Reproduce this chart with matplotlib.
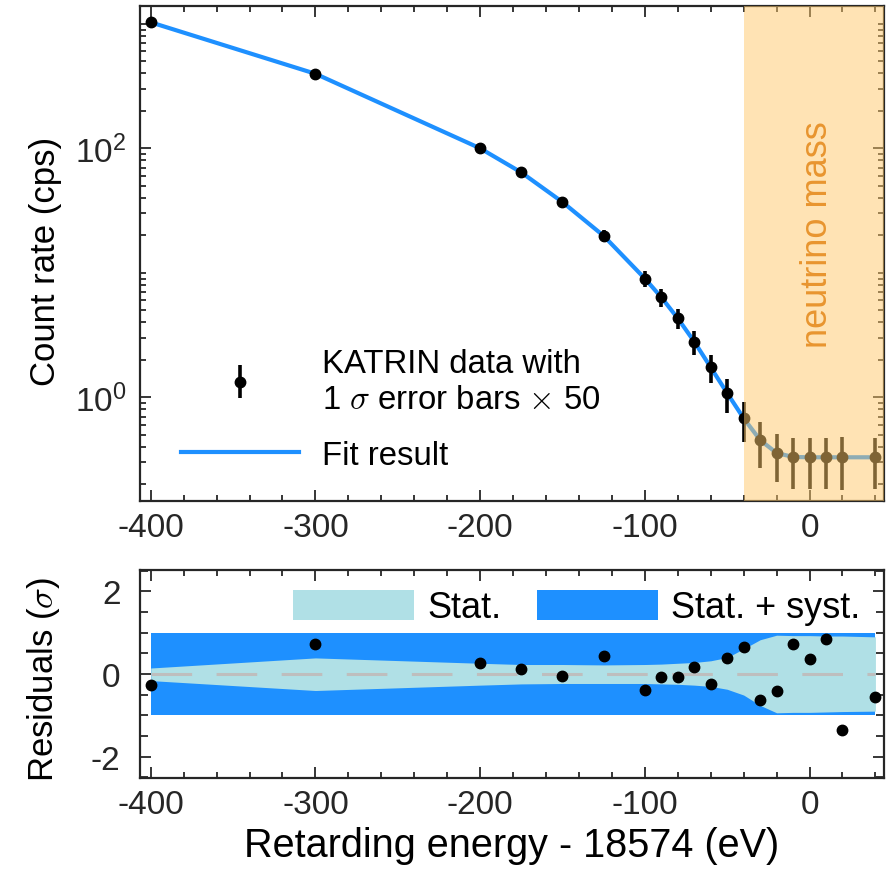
import numpy as np
import matplotlib
matplotlib.use("Agg")
import matplotlib.pyplot as plt
from matplotlib.ticker import FixedLocator, MultipleLocator, LogLocator, LogFormatterSciNotation, NullFormatter

plt.rcParams["font.family"] = ["Liberation Sans", "DejaVu Sans"]
plt.rcParams["mathtext.fontset"] = "cm"
plt.rcParams["axes.unicode_minus"] = False

# Retarding energy relative to 18574 eV
energy = [-400, -300, -200, -175, -150, -125, -100, -90, -80, -70,
          -60, -50, -40, -30, -20, -10, 0, 10, 20, 40]
# Measured count rate (cps)
rate = [1028, 397, 100, 64, 37, 19.8, 9.0, 6.36, 4.31, 2.80,
        1.74, 1.08, 0.678, 0.454, 0.357, 0.330, 0.330, 0.330, 0.330, 0.330]
# 1 sigma uncertainty of the rate (cps)
sigma = [0.40, 0.22, 0.10, 0.075, 0.058, 0.044, 0.026, 0.021, 0.016, 0.012,
         0.0088, 0.0066, 0.0048, 0.0037, 0.0030, 0.0029, 0.0029, 0.0029, 0.0030, 0.0029]
# Fitted model rate (cps)
fit_rate = [1028, 397, 100, 64, 37, 19.8, 9.0, 6.36, 4.31, 2.80,
            1.74, 1.08, 0.678, 0.454, 0.357, 0.332, 0.330, 0.330, 0.330, 0.330]
# Normalised residuals
residual = [-0.26, 0.72, 0.27, 0.11, -0.06, 0.44, -0.38, -0.08, -0.08, 0.16,
            -0.24, 0.38, 0.65, -0.63, -0.41, 0.73, 0.36, 0.84, -1.35, -0.56]
# Statistical band (upper / lower edge, in sigma of total)
stat_hi = [0.145, 0.39, 0.26, 0.23, 0.23, 0.22, 0.23, 0.24, 0.26, 0.28,
           0.32, 0.40, 0.61, 0.83, 0.94, 0.93, 0.93, 0.92, 0.92, 0.90]
stat_lo = [-0.16, -0.40, -0.27, -0.24, -0.23, -0.23, -0.23, -0.24, -0.25, -0.27,
           -0.30, -0.37, -0.51, -0.76, -0.94, -0.93, -0.93, -0.92, -0.91, -0.90]
# Statistical + systematic band
total_hi = [1.0] * len(energy)
total_lo = [-1.0] * len(energy)

ERR_SCALE = 50
NU_MASS_START = -40

BLUE = "#1E90FF"
LIGHT = "#B0E0E6"
DARK = "#262626"
XLIM = (-406.5, 45.2)

W, H = 892, 879
fig = plt.figure(figsize=(W / 100, H / 100), dpi=100)
ax1 = fig.add_axes([140 / W, 1 - 502 / H, 744 / W, 495 / H])
ax2 = fig.add_axes([140 / W, 1 - 779 / H, 744 / W, 208 / H])

# ---- spectrum panel ----
line, = ax1.plot(energy, fit_rate, color=BLUE, lw=3, zorder=2)
eb = ax1.errorbar(energy, rate, yerr=ERR_SCALE * np.array(sigma), fmt="o",
                  color="black", ms=7.5, elinewidth=2.6, capsize=0, zorder=3)
ax1.axvspan(NU_MASS_START, XLIM[1], facecolor=(1.0, 0.79, 0.42), alpha=0.5,
            lw=0, zorder=4)
ax1.text(5, 20.5, "neutrino mass", rotation=90, ha="center", va="center",
         color="#E8952F", fontsize=26, zorder=5)

ax1.set_yscale("log")
ax1.set_xlim(*XLIM)
ax1.set_ylim(0.147, 1390)
ax1.yaxis.set_major_locator(FixedLocator([1, 100]))
ax1.yaxis.set_major_formatter(LogFormatterSciNotation())
ax1.yaxis.set_minor_locator(LogLocator(base=10, subs=np.arange(1, 10), numticks=20))
ax1.yaxis.set_minor_formatter(NullFormatter())
ax1.set_ylabel("Count rate (cps)", fontsize=25)

ax1.legend([eb, line],
           ["KATRIN data with\n1 $\\sigma$ error bars $\\times$ 50", "Fit result"],
           loc="lower left", bbox_to_anchor=(0.037, 0.035), frameon=False,
           fontsize=23.7, handlelength=3.6, handletextpad=0.7,
           labelspacing=0.75, borderaxespad=0)

# ---- residual panel ----
ax2.fill_between(energy, total_lo, total_hi, color=BLUE, lw=0, zorder=1,
                 label="Stat. + syst.")
ax2.fill_between(energy, stat_lo, stat_hi, color=LIGHT, lw=0, zorder=2,
                 label="Stat.")
ax2.plot([energy[0], energy[-1]], [0, 0], color="#BEBEBE", lw=2.2,
         dashes=(13.3, 8), zorder=3)
ax2.plot(energy, residual, "o", color="black", ms=7.5, zorder=4)
ax2.set_xlim(*XLIM)
ax2.set_ylim(-2.52, 2.52)
ax2.yaxis.set_major_locator(FixedLocator([-2, 0, 2]))
ax2.yaxis.set_minor_locator(MultipleLocator(0.5))
ax2.set_ylabel("Residuals ($\\sigma$)", fontsize=25)
ax2.set_xlabel("Retarding energy - 18574 (eV)", fontsize=28.5)
h, l = ax2.get_legend_handles_labels()
ax2.legend(h[::-1], l[::-1], ncol=2, loc="upper right",
           bbox_to_anchor=(0.988, 0.975), frameon=False, fontsize=26,
           handlelength=3.35, handleheight=0.9, handletextpad=0.36,
           columnspacing=1.0, borderaxespad=0)

for ax in (ax1, ax2):
    ax.xaxis.set_major_locator(MultipleLocator(100))
    ax.xaxis.set_minor_locator(MultipleLocator(20))
    ax.tick_params(which="both", direction="in", top=True, right=True,
                   color=DARK, labelcolor=DARK, width=1.3)
    ax.tick_params(which="major", length=8, labelsize=24)
    ax.tick_params(which="minor", length=4)
    ax.tick_params(axis="x", pad=8)
    for s in ax.spines.values():
        s.set_color(DARK)
        s.set_linewidth(1.6)

ax1.tick_params(axis="y", pad=10)
ax2.tick_params(axis="y", pad=14)
ax2.tick_params(axis="y", which="minor", length=6)
ax1.yaxis.set_label_coords(-0.105, 0.485)
ax2.yaxis.set_label_coords(-0.105, 0.48)

fig.savefig("out.png", dpi=100)
